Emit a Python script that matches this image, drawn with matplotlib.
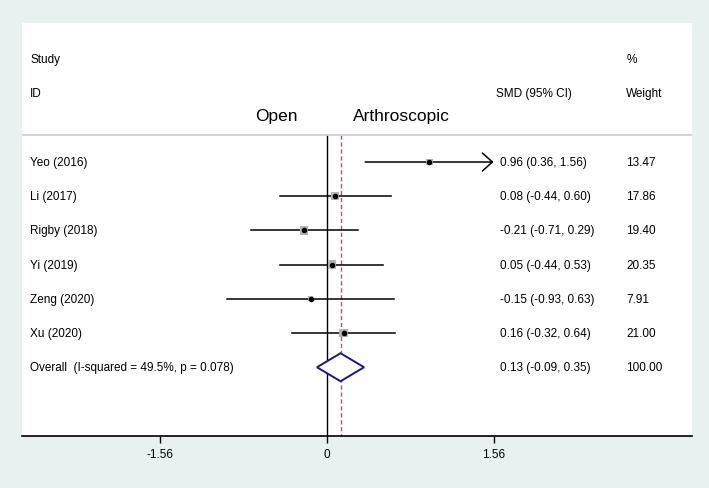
import numpy as np
import matplotlib.pyplot as plt

# study data
studies = ["Yeo (2016)", "Li (2017)", "Rigby (2018)", "Yi (2019)", "Zeng (2020)", "Xu (2020)"]
smd = np.array([0.96, 0.08, -0.21, 0.05, -0.15, 0.16])
lower = np.array([0.36, -0.44, -0.71, -0.44, -0.93, -0.32])
upper = np.array([1.56, 0.60, 0.29, 0.53, 0.63, 0.64])
weights = np.array([13.47, 17.86, 19.40, 20.35, 7.91, 21.00])

overall_label = "Overall  (I-squared = 49.5%, p = 0.078)"
overall = 0.13
overall_lo = -0.09
overall_hi = 0.35

ticks = [-1.56, 0, 1.56]
tick_labels = ["-1.56", "0", "1.56"]
x_clip = 1.56

plt.rcParams['font.family'] = ['Liberation Sans', 'DejaVu Sans']

fig = plt.figure(figsize=(7.09, 4.89), dpi=100)
fig.patch.set_facecolor('#e8f1ef')
ax = fig.add_axes([22 / 709, (489 - 437) / 489, 670 / 709, (437 - 24) / 489])
ax.set_facecolor('white')
ax.set_xlim(-2.847, 3.415)
y_bottom = 8.01
ax.set_ylim(y_bottom, -4.064)

rows = np.arange(len(studies))
y_over = len(studies)
header_y = -0.79
x_study = -2.77
x_smd = 1.62
x_wt = 2.80

# reference lines
ax.vlines(0, header_y, y_bottom, color='black', lw=1.0)
ax.vlines(overall, header_y, y_bottom, color='#c0505f', lw=1.0, linestyles=(0, (3, 2)))
ax.axhline(header_y, color='#c8c8dc', lw=1.2)

# confidence intervals
for y, lo, hi in zip(rows, lower, upper):
    if hi >= x_clip:
        ax.annotate('', xy=(x_clip, y), xytext=(lo, y),
                    arrowprops=dict(arrowstyle='->,head_length=0.4,head_width=0.36',
                                    lw=1.1, color='black',
                                    mutation_scale=18, shrinkA=0, shrinkB=0))
    else:
        ax.plot([lo, hi], [y, y], color='black', lw=1.1)

# weight boxes and point estimates
side = 8.5 * np.sqrt(weights / weights.max()) * 0.72
ax.scatter(smd, rows, s=side ** 2, marker='s', color='#b4b4b4', zorder=3, linewidths=0)
ax.scatter(smd, rows, s=9, color='black', zorder=4)

# overall diamond
ax.fill([overall_lo, overall, overall_hi, overall],
        [y_over, y_over - 0.41, y_over, y_over + 0.41],
        facecolor='white', edgecolor='#1a1a7a', lw=1.4, zorder=3)

# text columns
fs = 8.5
ax.text(x_study, -3.01, "Study", fontsize=fs, va='center')
ax.text(x_study, -2.02, "ID", fontsize=fs, va='center')
ax.text(x_smd - 0.04, -2.02, "SMD (95% CI)", fontsize=fs, va='center')
ax.text(x_wt, -3.01, "%", fontsize=fs, va='center')
ax.text(x_wt, -2.02, "Weight", fontsize=fs, va='center')
ax.text(-0.27, -1.35, "Open", fontsize=12.5, va='center', ha='right')
ax.text(0.25, -1.35, "Arthroscopic", fontsize=12.5, va='center', ha='left')

for y, name, m, lo, hi, w in zip(rows, studies, smd, lower, upper, weights):
    ax.text(x_study, y, name, fontsize=fs, va='center')
    ax.text(x_smd, y, "%.2f (%.2f, %.2f)" % (m, lo, hi), fontsize=fs, va='center')
    ax.text(x_wt, y, "%.2f" % w, fontsize=fs, va='center')

ax.text(x_study, y_over, overall_label, fontsize=fs, va='center')
ax.text(x_smd, y_over, "%.2f (%.2f, %.2f)" % (overall, overall_lo, overall_hi), fontsize=fs, va='center')
ax.text(x_wt, y_over, "100.00", fontsize=fs, va='center')

# axis
for s in ['left', 'right', 'top']:
    ax.spines[s].set_visible(False)
ax.spines['bottom'].set_color('black')
ax.spines['bottom'].set_linewidth(1.2)
ax.set_yticks([])
ax.set_xticks(ticks)
ax.set_xticklabels(tick_labels, fontsize=fs)
ax.tick_params(axis='x', length=5, width=1.0, pad=4)

fig.savefig('out.png', dpi=100, facecolor=fig.get_facecolor())
